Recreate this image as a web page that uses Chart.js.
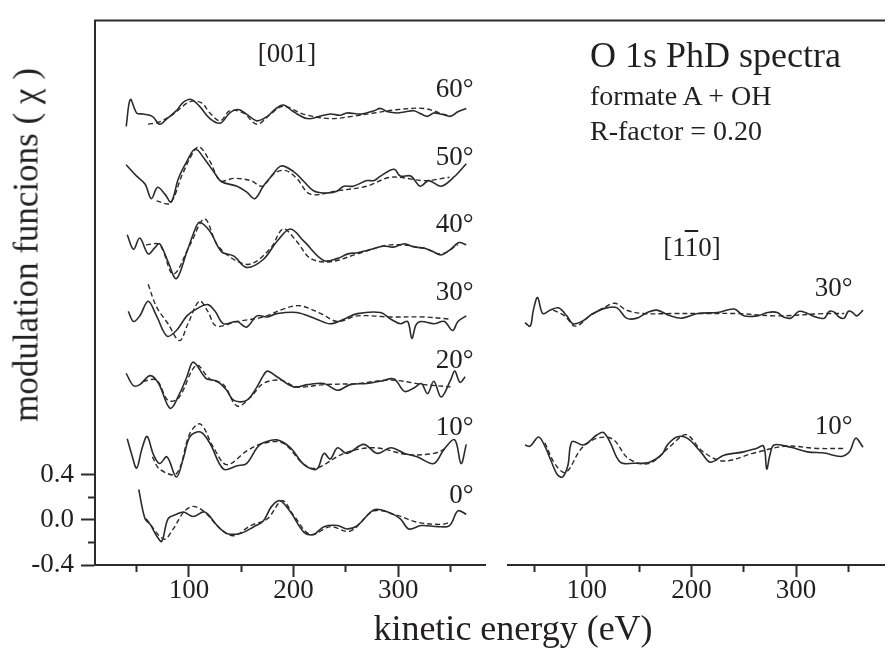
<!DOCTYPE html>
<html>
<head>
<meta charset="utf-8">
<script src="https://cdn.jsdelivr.net/npm/chart.js@4.4.1/dist/chart.umd.min.js"></script>
<style>
  body { margin: 0; background: #fff; }
  #wrap { position: relative; width: 885px; height: 651px; font-family: "Liberation Serif", "Times New Roman", serif; color: #231f20; }
  canvas { position: absolute; top: 0; }
  .t { position: absolute; white-space: nowrap; line-height: 1; }
</style>
</head>
<body>
<div id="wrap">
  <canvas id="left-chart" width="885" height="651" style="left:0"></canvas>
  <canvas id="right-chart" width="395" height="651" style="left:490px"></canvas>
  <div class="t" style="left:287px; top:40px; font-size:27px; transform:translateX(-50%)">[001]</div>
  <div class="t" style="left:692px; top:234px; font-size:27px; transform:translateX(-50%)">[1<span style="text-decoration:overline">1</span>0]</div>
  <div class="t" style="left:590px; top:37px; font-size:36px">O 1s PhD spectra</div>
  <div class="t" style="left:590px; top:82px; font-size:28px">formate A + OH</div>
  <div class="t" style="left:590px; top:117px; font-size:28px">R-factor = 0.20</div>
  <div class="t" style="left:513px; top:610px; font-size:36px; transform:translateX(-50%)">kinetic energy (eV)</div>
  <div class="t" style="left:26px; top:245px; font-size:35px; transform:translate(-50%,-50%) rotate(-90deg)">modulation funcions ( χ )</div>
</div>

<script>
// [001] azimuth, experiment (solid) and theory (dashed), [energy eV, chi]
const exp001_0 = [[52,0.27],[58,0.01],[63,-0.04],[69,-0.14],[74,-0.19],[80,0.01],[88,0.05],[95,0.07],[104,0.03],[115,0.07],[127,-0.05],[136,-0.12],[149,-0.12],[162,-0.06],[171,-0.01],[179,0.12],[187,0.17],[197,0.07],[210,-0.11],[219,-0.13],[229,-0.06],[242,-0.05],[251,-0.08],[261,-0.05],[277,0.09],[290,0.07],[302,0.01],[310,-0.08],[322,-0.05],[338,-0.06],[349,-0.05],[357,0.08],[365,0.05]];
const th001_0 = [[59,0.01],[76,-0.17],[85,-0.08],[95,0.07],[104,0.12],[115,0.07],[130,-0.08],[143,-0.14],[159,-0.05],[175,0.01],[189,0.17],[200,0.04],[216,-0.13],[235,-0.06],[254,-0.10],[277,0.08],[299,0.04],[318,-0.02],[341,-0.04],[350,-0.02]];

const exp001_10 = [[41,0.12],[45,-0.01],[50,-0.14],[55,0.03],[60,0.14],[66,-0.02],[72,-0.10],[79,-0.04],[88,-0.22],[95,-0.04],[101,0.14],[111,0.18],[120,0.08],[133,-0.15],[146,-0.12],[155,-0.10],[165,0.04],[170,0.08],[184,0.11],[197,0.04],[210,-0.11],[222,-0.15],[229,-0.01],[235,-0.06],[242,0.04],[251,-0.01],[267,0.07],[280,-0.01],[293,0.04],[306,-0.01],[318,-0.04],[334,-0.10],[344,0.03],[354,0.11],[360,-0.10],[365,0.07]];
const th001_10 = [[65,-0.04],[72,-0.15],[88,-0.19],[101,0.17],[111,0.25],[123,0.05],[136,-0.11],[155,0.01],[171,0.08],[190,0.08],[210,-0.11],[222,-0.14],[248,-0.01],[277,0.04],[309,-0.02],[334,-0.01],[347,0.04]];

const exp001_20 = [[40,0.10],[47,-0.01],[53,0],[63,0.08],[71,0.01],[82,-0.21],[91,-0.08],[98,0.07],[104,0.20],[114,0.08],[117,0.05],[127,0.03],[136,-0.05],[143,-0.14],[155,-0.14],[165,-0.02],[171,0.08],[175,0.12],[184,0.07],[200,-0.02],[213,0],[229,0.01],[242,-0.05],[254,0],[270,0.01],[283,0.03],[296,0.05],[306,-0.06],[315,-0.03],[322,0.01],[328,-0.08],[334,0.03],[341,-0.11],[350,0.04],[354,0.12],[359,0.02],[364,0.07]];
const th001_20 = [[56,0.03],[69,0.04],[80,-0.14],[90,-0.12],[107,0.17],[120,0.05],[133,0],[146,-0.19],[159,-0.11],[171,0.01],[187,0.04],[203,-0.02],[229,0],[261,0.01],[293,0.04],[325,0],[350,-0.02]];

const exp001_30 = [[42,0.05],[47,-0.04],[53,0.01],[61,0.14],[69,0.01],[79,-0.17],[88,-0.12],[98,0.01],[107,0.07],[118,0.11],[125,0.05],[133,-0.06],[146,-0.04],[155,-0.09],[165,0.01],[175,0],[184,0.03],[203,0.04],[222,-0.02],[235,-0.06],[248,-0.02],[261,0.03],[283,0.04],[293,-0.02],[302,-0.06],[309,-0.04],[313,-0.19],[317,-0.07],[322,-0.04],[334,-0.06],[344,-0.04],[352,-0.12],[357,-0.04],[365,0.01]];
const th001_30 = [[61,0.29],[69,0.09],[80,-0.06],[91,-0.21],[99,-0.06],[110,0.14],[118,0.05],[126,-0.08],[146,-0.04],[171,0],[190,0.07],[206,0.10],[226,0.03],[242,-0.04],[261,0.01],[293,0],[325,0],[350,-0.02]];

const exp001_40 = [[41,0.13],[47,0],[53,0.10],[61,-0.04],[67,0.01],[72,0.05],[80,-0.11],[88,-0.26],[98,-0.02],[106,0.18],[110,0.24],[120,0.16],[131,-0.02],[143,-0.06],[155,-0.16],[171,-0.09],[184,0.07],[197,0.18],[210,0.07],[229,-0.10],[242,-0.08],[252,-0.04],[261,-0.03],[270,-0.01],[278,0.01],[286,0.03],[295,0.02],[306,0.05],[315,0.02],[325,0.01],[333,-0.02],[341,-0.05],[350,0],[358,0.06],[365,0.04]];
const th001_40 = [[59,0.04],[72,0.04],[85,-0.22],[101,0.04],[115,0.27],[127,0.04],[143,-0.09],[159,-0.13],[178,0.01],[190,0.18],[203,0.07],[216,-0.08],[235,-0.11],[261,-0.04],[293,0.04],[325,0.01],[341,-0.04],[357,0.04]];

const exp001_50 = [[40,0.15],[50,0.05],[58,-0.02],[64,-0.15],[70,-0.05],[77,-0.11],[83,-0.18],[90,0.03],[98,0.18],[106,0.29],[115,0.20],[125,0.07],[131,0],[146,-0.04],[155,-0.09],[163,-0.15],[171,-0.04],[179,0.05],[188,0.14],[200,0.09],[210,0],[219,-0.08],[229,-0.10],[240,-0.09],[248,-0.04],[257,-0.04],[270,0.01],[277,0.01],[283,0.05],[296,0.11],[302,0.05],[312,0.05],[321,-0.04],[329,0.01],[341,-0.04],[353,0.04],[365,0.16]];
const th001_50 = [[69,-0.17],[82,-0.19],[93,0.05],[104,0.26],[110,0.31],[120,0.18],[130,0.01],[143,0.03],[159,0.01],[170,-0.04],[181,0.07],[192,0.10],[203,0.03],[216,-0.11],[242,-0.08],[270,-0.04],[293,0.04],[325,0.01],[349,0.04]];

const exp001_60 = [[40,-0.11],[44,0.13],[50,0.01],[56,0],[65,-0.02],[72,-0.09],[79,-0.04],[88,0.03],[94,0.10],[102,0.13],[110,0.07],[120,-0.04],[130,-0.08],[139,0.01],[147,0.04],[155,0],[165,-0.06],[175,-0.02],[182,0.04],[190,0.08],[200,0.02],[213,-0.04],[225,-0.02],[235,0],[245,-0.01],[251,0.01],[265,0],[277,0.03],[283,0.05],[290,0.02],[299,0.01],[307,0.02],[315,0.03],[322,0],[328,-0.02],[334,0.01],[340,0],[345,-0.01],[350,-0.02],[357,0.02],[365,0.05]];
const th001_60 = [[61,-0.09],[72,-0.07],[85,0],[101,0.11],[112,0.10],[120,0.01],[130,-0.06],[139,0.03],[152,0.01],[165,-0.09],[178,0],[190,0.07],[209,0],[235,-0.04],[256,-0.02],[277,0.01],[300,0.04],[324,0.05],[343,0],[350,-0.02]];

// [1-10] azimuth
const exp110_10 = [[41,0.05],[46,0.04],[54,0.12],[60,0.04],[66,-0.09],[72,-0.21],[77,-0.23],[82,-0.13],[86,0.08],[97,0.05],[110,0.14],[116,0.16],[122,0.08],[132,-0.10],[145,-0.11],[160,-0.10],[172,-0.03],[177,0.05],[186,0.12],[196,0.11],[209,-0.01],[218,-0.10],[231,-0.04],[250,-0.01],[262,0.02],[269,0.04],[272,-0.16],[275,-0.04],[279,0.05],[295,0.03],[311,-0.01],[327,-0.02],[343,-0.05],[351,-0.01],[357,0.11],[364,0.03]];
const th110_10 = [[60,0.07],[70,-0.12],[80,-0.19],[95,0.02],[110,0.11],[125,0.10],[140,-0.07],[160,-0.11],[180,0.04],[195,0.14],[210,0],[230,-0.09],[260,-0.02],[290,0.04],[320,0.02],[345,0.02]];

const exp110_30 = [[41,-0.08],[46,-0.11],[49,0.03],[53,0.14],[58,0],[65,0.03],[73,0.05],[81,-0.02],[87,-0.09],[97,-0.06],[106,0],[119,0.05],[129,0.05],[138,-0.04],[148,-0.04],[158,0.01],[167,0.03],[180,-0.02],[191,-0.04],[206,0],[225,0.01],[241,0.04],[250,-0.02],[263,-0.02],[273,0.01],[282,0.01],[288,-0.03],[295,-0.04],[303,0.02],[311,0],[319,-0.03],[327,-0.04],[332,0.02],[337,0.01],[341,-0.03],[346,-0.04],[350,0.02],[354,0.01],[358,-0.02],[364,0.03]];
const th110_30 = [[68,0.03],[79,-0.02],[89,-0.11],[103,-0.02],[116,0.05],[127,0.09],[138,0.03],[154,0],[180,0],[212,0],[244,0],[282,-0.02],[327,0],[346,0]];

// vertical stacking of the curves
const angles001 = ["0°", "10°", "20°", "30°", "40°", "50°", "60°"];
const offsets001 = [0, 0.6, 1.2, 1.8, 2.4, 3.0, 3.6];
const exp001 = [exp001_0, exp001_10, exp001_20, exp001_30, exp001_40, exp001_50, exp001_60];
const th001 = [th001_0, th001_10, th001_20, th001_30, th001_40, th001_50, th001_60];

const angles110 = ["10°", "30°"];
const offsets110 = [0.6, 1.8];
const exp110 = [exp110_10, exp110_30];
const th110 = [th110_10, th110_30];

const yTicks = [-0.4, -0.2, 0, 0.2, 0.4];
const xTicks = [50, 100, 150, 200, 250, 300, 350];

const INK = "#2b2b2b";
const TEXT = "#231f20";
const FONT = "'Liberation Serif', 'Times New Roman', serif";

function makeDatasets(expList, thList, offsets) {
    let sets = [];
    expList.forEach((curve, i) => {
        sets.push({
            data: curve.map(p => ({ x: p[0], y: p[1] + offsets[i] })),
            borderColor: INK, borderWidth: 1.6, tension: 0.35
        });
        sets.push({
            data: thList[i].map(p => ({ x: p[0], y: p[1] + offsets[i] })),
            borderColor: INK, borderWidth: 1.4, borderDash: [5, 3], tension: 0.35
        });
    });
    return sets;
}

// angle labels above the right end of each pair of curves
function angleLabels(angles, offsets, anchorE) {
    return {
        id: "angleLabels",
        afterDatasetsDraw(chart) {
            const c = chart.ctx;
            const xs = chart.scales.x, ys = chart.scales.y;
            c.save();
            c.fillStyle = TEXT;
            c.font = "27px " + FONT;
            c.textAlign = "right";
            c.textBaseline = "alphabetic";
            angles.forEach((a, i) => {
                c.fillText(a, xs.getPixelForValue(anchorE), ys.getPixelForValue(offsets[i] + 0.15));
            });
            c.restore();
        }
    };
}

const topLine = {
    id: "topLine",
    afterDraw(chart) {
        const c = chart.ctx;
        c.save();
        c.strokeStyle = INK;
        c.lineWidth = 2;
        c.beginPath();
        c.moveTo(chart.chartArea.left - 1, chart.chartArea.top);
        c.lineTo(chart.width, chart.chartArea.top);
        c.stroke();
        c.restore();
    }
};

function xScale(min, max) {
    return {
        type: "linear", min: min, max: max,
        afterBuildTicks: (s) => { s.ticks = xTicks.map(v => ({ value: v })); },
        afterFit: (s) => { s.height = 86; },
        border: { display: true, color: INK, width: 2 },
        grid: {
            drawOnChartArea: false, color: INK, tickColor: INK, tickWidth: 2, tickLength: 12,
            tickBorderDash: (ctx) => (ctx.tick && ctx.tick.value % 100 !== 0) ? [6, 60] : []
        },
        ticks: {
            color: TEXT, padding: 0,
            font: { family: FONT, size: 27, lineHeight: 1 },
            maxRotation: 0, autoSkip: false,
            callback: (v) => v % 100 === 0 ? String(v) : ""
        }
    };
}

function yScale(show) {
    return {
        type: "linear", min: -0.4, max: 4.43, display: show,
        afterBuildTicks: (s) => { s.ticks = yTicks.map(v => ({ value: v })); },
        afterFit: (s) => { s.width = show ? 95 : 0; },
        border: { display: true, color: INK, width: 2 },
        grid: {
            drawOnChartArea: false, color: INK, tickColor: INK, tickWidth: 2, tickLength: 14,
            tickBorderDash: (ctx) => (ctx.tick && Math.round(Math.abs(ctx.tick.value) * 10) % 4 !== 0) ? [0, 7, 8, 60] : []
        },
        ticks: {
            color: TEXT, padding: 7,
            font: { family: FONT, size: 27, lineHeight: 1 },
            callback: (v) => Math.round(Math.abs(v) * 10) % 4 === 0 ? v.toFixed(1) : ""
        }
    };
}

const commonOptions = {
    responsive: false,
    animation: false,
    devicePixelRatio: 1,
    elements: { point: { radius: 0 } },
    plugins: { legend: { display: false }, tooltip: { enabled: false } }
};

new Chart(document.getElementById("left-chart").getContext("2d"), {
    type: "line",
    data: { datasets: makeDatasets(exp001, th001, offsets001) },
    options: {
        ...commonOptions,
        layout: { padding: { left: 0, right: 400, top: 13, bottom: 0 } },
        scales: { x: xScale(10.2, 382.9), y: yScale(true) }
    },
    plugins: [angleLabels(angles001, offsets001, 372), topLine]
});

new Chart(document.getElementById("right-chart").getContext("2d"), {
    type: "line",
    data: { datasets: makeDatasets(exp110, th110, offsets110) },
    options: {
        ...commonOptions,
        layout: { padding: { left: 17.7, right: 0, top: 13, bottom: 0 } },
        scales: { x: xScale(24.5, 385), y: yScale(false) }
    },
    plugins: [angleLabels(angles110, offsets110, 354)]
});
</script>
</body>
</html>
